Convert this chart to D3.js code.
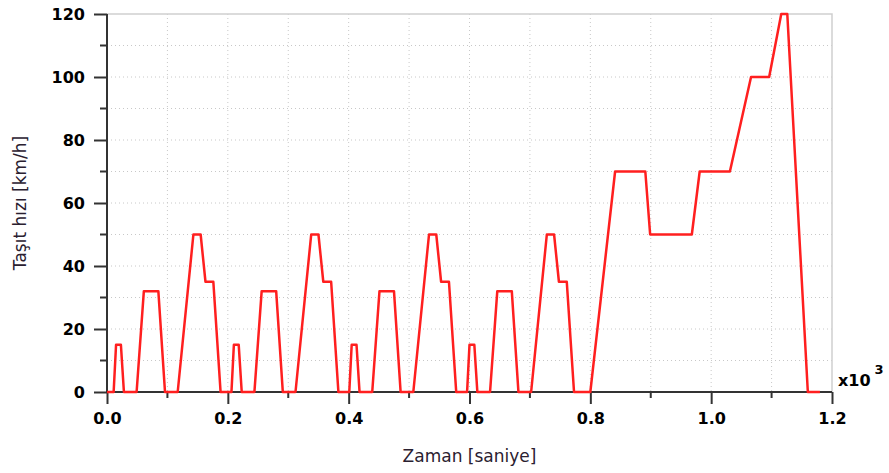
<!DOCTYPE html>
<html>
<head>
<meta charset="utf-8">
<script src="https://cdn.jsdelivr.net/npm/d3@7"></script>
<style>
  body { margin: 0; background: #fff; }
  text { font-family: "DejaVu Sans", Verdana, sans-serif; }
</style>
</head>
<body>
<div id="chart"></div>
<script>
// NEDC hız profili - kırılma noktaları (saniye, km/h)

var zaman = [
    0, 11, 15, 23, 28, 49, 61, 85, 96, 117, 143, 155, 163, 176, 188,
    195, 206, 210, 218, 223, 244, 256, 280, 291, 312, 338, 350, 358, 371, 383,
    390, 401, 405, 413, 418, 439, 451, 475, 486, 507, 533, 545, 553, 566, 578,
    585, 596, 600, 608, 613, 634, 646, 670, 681, 702, 728, 740, 748, 761, 773,
    800, 841, 891, 899, 968, 981, 1031, 1066, 1096, 1116, 1126, 1160, 1180
];

var hiz = [
    0, 0, 15, 15, 0, 0, 32, 32, 0, 0, 50, 50, 35, 35, 0,
    0, 0, 15, 15, 0, 0, 32, 32, 0, 0, 50, 50, 35, 35, 0,
    0, 0, 15, 15, 0, 0, 32, 32, 0, 0, 50, 50, 35, 35, 0,
    0, 0, 15, 15, 0, 0, 32, 32, 0, 0, 50, 50, 35, 35, 0,
    0, 70, 70, 50, 50, 70, 70, 100, 100, 120, 120, 0, 0
];

var xTicks = [0, 200, 400, 600, 800, 1000, 1200];
var xMinor = [100, 300, 500, 700, 900, 1100];
var yTicks = [0, 20, 40, 60, 80, 100, 120];
var yMinor = [10, 30, 50, 70, 90, 110];

var width = 889, height = 473;
var margin = {top: 14, right: 57, bottom: 81, left: 107};
var w = width - margin.left - margin.right;
var h = height - margin.top - margin.bottom;

var svg = d3.select("#chart").append("svg")
    .attr("width", width)
    .attr("height", height);

var x = d3.scaleLinear().domain([0, 1200]).range([0, w]);
var y = d3.scaleLinear().domain([0, 120]).range([h, 0]);

var g = svg.append("g")
    .attr("transform", "translate(" + margin.left + "," + margin.top + ")");

// ızgara (noktalı)
var grid = g.append("g").attr("class", "grid");
grid.selectAll(".gx")
    .data(xTicks.concat(xMinor).filter(function(d) { return d > 0 && d < 1200; }))
    .enter().append("line")
    .attr("x1", function(d) { return x(d); })
    .attr("x2", function(d) { return x(d); })
    .attr("y1", 0).attr("y2", h)
    .attr("stroke", "#c8c8c8")
    .attr("stroke-width", 1)
    .attr("stroke-dasharray", "1,3");
grid.selectAll(".gy")
    .data(yTicks.concat(yMinor).filter(function(d) { return d > 0 && d < 120; }))
    .enter().append("line")
    .attr("y1", function(d) { return y(d); })
    .attr("y2", function(d) { return y(d); })
    .attr("x1", 0).attr("x2", w)
    .attr("stroke", "#c8c8c8")
    .attr("stroke-width", 1)
    .attr("stroke-dasharray", "1,3");

// üst ve sağ çerçeve
g.append("path")
    .attr("d", "M0,0H" + w + "V" + h)
    .attr("fill", "none")
    .attr("stroke", "#cfcfcf")
    .attr("stroke-width", 1.5);

// X - ekseni
var xAxis = g.append("g")
    .attr("transform", "translate(0," + h + ")")
    .call(d3.axisBottom(x).tickValues(xTicks).tickSize(12).tickPadding(9)
        .tickFormat(function(d) { return d3.format(".1f")(d / 1000); }));
xAxis.append("g").selectAll("line")
    .data(xMinor).enter().append("line")
    .attr("x1", function(d) { return x(d); })
    .attr("x2", function(d) { return x(d); })
    .attr("y1", 0).attr("y2", 6)
    .attr("stroke", "#333").attr("stroke-width", 2);

// Y - ekseni
var yAxis = g.append("g")
    .call(d3.axisLeft(y).tickValues(yTicks).tickSize(13).tickPadding(9));
yAxis.append("g").selectAll("line")
    .data(yMinor).enter().append("line")
    .attr("y1", function(d) { return y(d); })
    .attr("y2", function(d) { return y(d); })
    .attr("x1", 0).attr("x2", -7)
    .attr("stroke", "#333").attr("stroke-width", 2);

[xAxis, yAxis].forEach(function(a) {
    a.select(".domain").attr("stroke", "#333").attr("stroke-width", 2);
    a.selectAll(".tick line").attr("stroke", "#333").attr("stroke-width", 2);
    a.selectAll(".tick text")
        .attr("fill", "#000")
        .style("font-size", "16px")
        .style("font-weight", "bold")
        .style("font-family", "'DejaVu Sans', Verdana, sans-serif");
});
xAxis.select(".domain").attr("d", "M0,0H" + w);
yAxis.select(".domain").attr("d", "M0," + h + "V0");

// veri çizgisi (eksenlerin üstünde)
var veri = zaman.map(function(t, i) { return [t, hiz[i]]; });
var line = d3.line()
    .x(function(d) { return x(d[0]); })
    .y(function(d) { return y(d[1]); });

g.append("path")
    .datum(veri)
    .attr("d", line)
    .attr("fill", "none")
    .attr("stroke", "#ff1f1f")
    .attr("stroke-width", 2.5)
    .attr("stroke-linejoin", "round");

// çarpan etiketi
var carpan = svg.append("text")
    .attr("x", 838)
    .attr("y", 386)
    .attr("fill", "#000")
    .style("font-size", "16px")
    .style("font-weight", "bold");
carpan.append("tspan").text("x10");
carpan.append("tspan").attr("dx", 4).attr("dy", -12).style("font-size", "13px").text("3");

// eksen başlıkları
svg.append("text")
    .attr("x", margin.left + x(600))
    .attr("y", 462)
    .attr("text-anchor", "middle")
    .attr("fill", "#2a2030")
    .style("font-size", "17px")
    .text("Zaman [saniye]");

svg.append("text")
    .attr("transform", "translate(26,203) rotate(-90)")
    .attr("text-anchor", "middle")
    .attr("fill", "#2a2030")
    .style("font-size", "17px")
    .text("Taşıt hızı [km/h]");
</script>
</body>
</html>
